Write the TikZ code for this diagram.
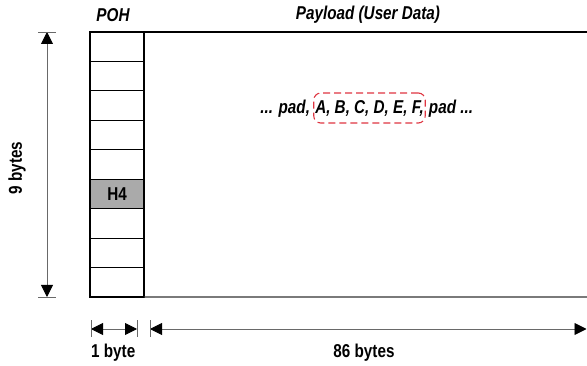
\documentclass[tikz,border=0pt]{standalone}
\usepackage{fontspec}
\setmainfont{Liberation Sans}[FakeStretch=0.82]
\usetikzlibrary{arrows.meta,calc}
\definecolor{markred}{RGB}{222,52,64}
\definecolor{dimgrey}{RGB}{105,105,105}
\definecolor{hfill}{RGB}{170,170,170}
\begin{document}
\begin{tikzpicture}[x=1pt,y=-1pt,
  lbl/.style={font=\bfseries\fontsize{18.6}{22}\selectfont, inner sep=0pt},
  ilbl/.style={font=\bfseries\itshape\fontsize{18.6}{22}\selectfont, inner sep=0pt},
  cell/.style={draw=black, line width=1.1pt, minimum width=54pt, minimum height=29.44pt,
    inner sep=0pt, outer sep=0pt},
  frame/.style={line width=1.2pt, black},
  dim/.style={line width=0.9pt, dimgrey, {Triangle[length=12pt,width=12pt,black]}-{Triangle[length=12pt,width=12pt,black]}},
  bar/.style={line width=0.9pt, dimgrey},
  marked/.style={draw=markred, line width=1.1pt, dash pattern=on 7pt off 4pt,
    rounded corners=7pt, minimum height=30pt, inner xsep=1.5pt, inner ysep=0pt}
]
\useasboundingbox (0,0) rectangle (587,366);

% POH column: nine one-byte rows, row 6 carries H4
\foreach \i in {1,2,3,4,5,7,8,9}
  \node[cell] (r\i) at (117, {32+29.44*(\i-0.5)}) {};
\node[cell, fill=hfill, font=\bfseries\fontsize{18.6}{22}\selectfont] (r6) at (117, {32+29.44*5.5}) {H4};

% payload frame (open to the right)
\coordinate (tr) at (587,32);
\coordinate (br) at (587,297);
\draw[frame] (r1.north east) -- (tr);
\draw[frame, black!80] (r9.south east) -- (br);

% column headings
\node[ilbl] (poh) at (113,15) {POH};
\node[ilbl] (payload) at (368,15) {Payload (User Data)};

% byte stream inside the payload
\node[ilbl, marked] (mid) at (369.5,108) {A, B, C, D, E, F,};
\node[ilbl, anchor=base east] (padl) at ($(mid.base west)+(-3,0)$) {... pad,};
\node[ilbl, anchor=base west] (padr) at ($(mid.base east)+(3,0)$) {pad ...};

% vertical dimension: 9 bytes
\coordinate (vt) at (47,32);
\coordinate (vb) at (47,297);
\draw[dim] (vt) -- (vb);
\draw[bar] ($(vt)+(-9,0)$) -- ($(vt)+(9,0)$);
\draw[bar] ($(vb)+(-9,0)$) -- ($(vb)+(9,0)$);
\node[lbl, rotate=90] (nine) at (17,168) {9 bytes};

% horizontal dimensions: 1 byte and 86 bytes
\coordinate (d1) at (91,329);
\coordinate (d2) at (137,329);
\coordinate (d3) at (150,329);
\coordinate (d4) at (586.5,329);
\draw[dim] (d1) -- (d2);
\draw[dim] (d3) -- (d4);
\foreach \c in {d1,d2,d3}
  \draw[bar] ($(\c)+(0,-8.5)$) -- ($(\c)+(0,8.5)$);
\node[lbl, anchor=west] (one) at (91,353) {1 byte};
\node[lbl] (eightysix) at (364,353) {86 bytes};
\end{tikzpicture}
\end{document}
